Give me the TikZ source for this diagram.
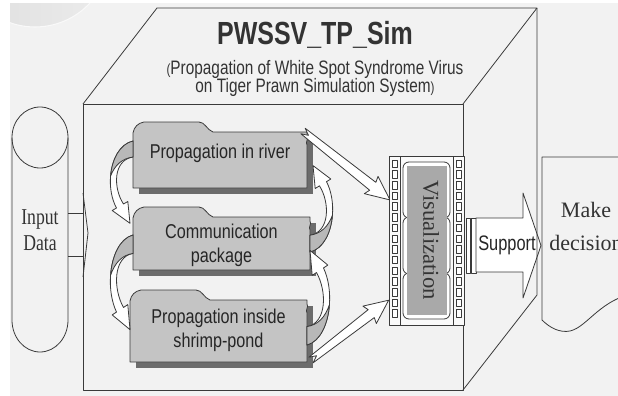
\documentclass[tikz,border=0pt]{standalone}
\usepackage{fontspec}
\setmainfont{Liberation Serif}
\newfontfamily\labelsans{Liberation Sans}[FakeStretch=0.81]
\newfontfamily\headsans{Liberation Sans}[FakeStretch=0.78]
\newfontfamily\subsans{Liberation Sans}[FakeStretch=0.79]
\newfontfamily\narrowserif{Liberation Serif}[FakeStretch=0.78]
\newfontfamily\supportsans{Liberation Sans}[FakeStretch=0.78]

\definecolor{paper}{HTML}{F2F2F2}
\definecolor{ink}{HTML}{3A3A3A}
\definecolor{textink}{HTML}{262626}
\definecolor{titleink}{HTML}{333333}
\definecolor{folderfill}{HTML}{C4C4C4}
\definecolor{foldershade}{HTML}{6C6C6C}
\definecolor{ribbonback}{HTML}{B8B8B8}
\definecolor{filmgray}{HTML}{A9A9A9}
\definecolor{discleft}{HTML}{DEDEDE}
\definecolor{discright}{HTML}{ECECEC}

% folder-shaped box with a tab and a solid drop shadow
% #1 name, #2 x, #3 y (top of body), #4 width, #5 height, #6 text centre y, #7 text
\newcommand\folderbox[7]{%
  \fill[foldershade] (#2+6,#3+6) rectangle ++(#4,#5);
  \begin{scope}[shift={(#2,#3)}]
    \filldraw[fill=folderfill, outline]
      (0,1) .. controls (1,-5) and (5,-9) .. (11,-10) -- (66,-10)
      .. controls (72,-10) and (74,-2) .. (80,0) -- (#4,0) -- (#4,4)
      .. controls (#4+2,7) and (#4-2,10) .. (#4,13) -- (#4,#5) -- (0,#5) -- cycle;
  \end{scope}
  \node[foldertext] (#1) at (#2+#4/2,#6) {#7};
}

% curved ribbon arrow, drawn in local coordinates (origin at its root)
\newcommand\ribbonarrow[1]{%
  \begin{scope}[#1]
    \filldraw[fill=white, outline]
      (0,0) .. controls (-13.2,3) and (-21,18.24) .. (-22.43,34.92)
      .. controls (-23.38,46.04) and (-21.5,57.8) .. (-16.5,67)
      -- (-20.8,69.5) -- (-3,82.3) -- (-5.2,60.5) -- (-9.5,63)
      .. controls (-20,47) and (-20,19) .. (0,16) -- cycle;
    \filldraw[fill=ribbonback, outline]
      (0,0) .. controls (-13.2,3) and (-21,18.24) .. (-22.43,34.92)
      .. controls (-18,24) and (-11,17.5) .. (0,16) -- cycle;
  \end{scope}}

% straight block arrow with a notched tail: #1 tail, #2 angle, #3 length
\newcommand\boltarrow[3]{%
  \begin{scope}[shift={#1}, rotate=#2]
    \filldraw[fill=white, outline]
      (0,-3.5) -- (#3-22,-5) -- (#3-24,-11) -- (#3,0) -- (#3-24,11)
      -- (#3-22,5) -- (0,3.5) -- (7,0) -- cycle;
  \end{scope}}

\begin{document}
\begin{tikzpicture}[x=0.75pt, y=-0.75pt,
  outline/.style={draw=ink, line width=0.6pt, line join=round},
  foldertext/.style={font=\labelsans\fontsize{15}{18}\selectfont, text=textink,
    align=center, inner sep=0pt},
  seriftext/.style={text=titleink, align=center, inner sep=0pt}]
\useasboundingbox (0,0) rectangle (618,396);
\clip (0,0) rectangle (618,396);

% page and the pale disc in the corner
\fill[white] (0,0) rectangle (618,396);
\fill[paper] (10,3) rectangle (618,396);
\begin{scope}
  \clip (10,3) rectangle (618,396);
  \shade[left color=discleft, right color=discright] (35,-48) circle[radius=75];
  \draw[white!55!paper, line width=0.8pt] (35,-48) circle[radius=75];
\end{scope}

% input data cylinder
\filldraw[fill=paper, outline] (12,137.5) -- (12,320)
  .. controls (12,337.7) and (24.5,352) .. (40,352)
  .. controls (55.5,352) and (68,337.7) .. (68,320) -- (68,137.5);
\draw[outline] (40,137.5) ellipse [x radius=28, y radius=30.5];
\node[seriftext, font=\narrowserif\fontsize{17}{19.5}\selectfont] (input) at (40,230) {Input\\Data};

% arrow from the data into the system
\draw[outline] (68,213) -- (83,213);
\draw[outline] (68,256) -- (83,256);
\draw[outline] (83,193) -- (88,233) -- (83,277);

% support arrow with its double bar
\filldraw[fill=white, outline] (466,218) rectangle (470,273);
\filldraw[fill=white, outline] (471,218) rectangle (476,273);
\filldraw[fill=white, outline] (476,218) -- (523,218) -- (523,193) -- (541,245.5)
  -- (523,298) -- (523,272) -- (476,272) -- cycle;
\node[font=\supportsans\fontsize{15.75}{18}\selectfont, text=textink, anchor=base,
  inner sep=0pt] (support) at (507,250) {Support};

% decision document
\filldraw[fill=paper, outline] (640,157) -- (542,157) -- (542,320)
  .. controls (550,328) and (560,333) .. (570,331)
  .. controls (588,327) and (600,298) .. (640,292);
\node[seriftext, font=\fontsize{16.5}{25}\selectfont] (decide) at (586,226.5) {Make\\decision};

% system block drawn as an open box
\draw[outline] (83,104) rectangle (463,390);
\draw[outline] (83,104) -- (157,8) -- (537,8) -- (463,104);
\draw[outline] (537,8) -- (537,295) -- (463,390);

\node[font=\headsans\bfseries\fontsize{24}{28}\selectfont, text=titleink, anchor=base,
  inner sep=0pt] (title) at (315,45) {PWSSV\_TP\_Sim};
\node[font=\subsans\fontsize{14.6}{16}\selectfont, text=titleink, anchor=base,
  inner sep=0pt] (sub1) at (315,74)
  {{\fontsize{11}{11}\selectfont(}Propagation of White Spot Syndrome Virus};
\node[font=\subsans\fontsize{14.6}{16}\selectfont, text=titleink, anchor=base,
  inner sep=0pt] (sub2) at (315,92)
  {on Tiger Prawn Simulation System{\fontsize{11}{11}\selectfont)}};

% the three modules
\folderbox{river}{133}{132}{174}{56}{153.8}{Propagation in river}
\folderbox{comm}{133}{217}{177}{53}{245.8}{Communication\\package}
\folderbox{pond}{130}{300}{177}{62}{330.8}{Propagation inside\\shrimp-pond}

% exchanges between the modules
\ribbonarrow{shift={(133,141)}}
\ribbonarrow{shift={(133,235)}, yscale=1.15}
\ribbonarrow{shift={(310,252)}, xscale=-1, yscale=-1.05}
\ribbonarrow{shift={(307,345)}, xscale=-1, yscale=-1.15}

% results sent to the visualisation
\boltarrow{(303,131)}{-38.4}{111}
\boltarrow{(311,360)}{37.6}{98}

% film strip
\filldraw[fill=white!60!paper, outline] (389,156) rectangle (464,325);
\draw[outline] (400,156) -- (400,325);
\draw[outline] (453,156) -- (453,325);
\foreach \i in {0,...,14} {
  \filldraw[fill=white, outline] (392,160+\i*10.7) rectangle ++(5.5,7.5);
  \filldraw[fill=white, outline] (456,160+\i*10.7) rectangle ++(5.5,7.5);
}
\filldraw[fill=white, outline, rounded corners=4.5pt] (403,162) rectangle (450,218);
\filldraw[fill=white, outline, rounded corners=4.5pt] (403,217) rectangle (450,274);
\filldraw[fill=white, outline, rounded corners=4.5pt] (403,273) rectangle (450,319);
\fill[filmgray] (407,166) rectangle (447,315);
\node[font=\fontsize{17}{20}\selectfont, text=ink!90!black, rotate=-90, inner sep=0pt]
  (vis) at (431,240) {Visualization};
\end{tikzpicture}
\end{document}
